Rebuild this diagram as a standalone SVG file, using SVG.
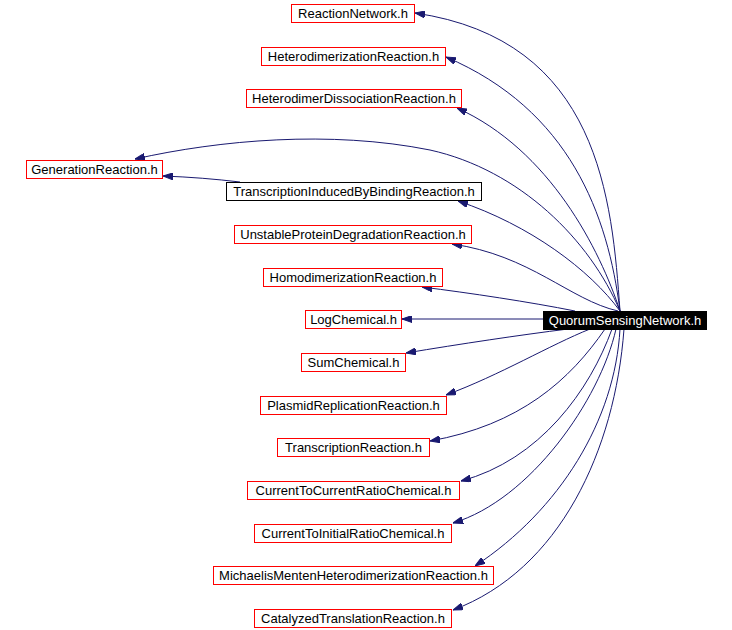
<svg xmlns="http://www.w3.org/2000/svg" width="732" height="630" viewBox="0 0 732 630">
<style>
.n rect{fill:#fff;stroke:#ff0000;stroke-width:1}
.n.b rect{stroke:#000}
.n text{font-family:"Liberation Sans",Arial,sans-serif;font-size:13px;fill:#000;text-anchor:middle}
.n.root rect{fill:#000;stroke:#000}
.n.root text{fill:#fff}
#edges path{fill:none;stroke:#191970;stroke-width:1;marker-end:url(#ah)}
</style>
<defs>
<marker id="ah" viewBox="0 0 10 7" refX="10" refY="3.5" markerWidth="10" markerHeight="7" markerUnits="userSpaceOnUse" orient="auto">
<path d="M0,0 L10,3.5 L0,7 z" fill="#191970" stroke="#191970" stroke-width="1"/>
</marker>
</defs>
<rect width="732" height="630" fill="#fff"/>
<g id="edges">
<path d="M620,311 C612,200 600,40 415,13"/>
<path d="M620,311 C608,215 570,110 446,57"/>
<path d="M620,311 C600,250 550,150 457,108"/>
<path d="M620,311 C590,240 520,170 430,150 C330,130 220,140 135,159"/>
<path d="M240,182 C215,179 190,177 163,176"/>
<path d="M620,311 C590,270 530,225 458,201"/>
<path d="M618,311 C570,300 530,255 452,244"/>
<path d="M575,311 C530,302 470,293 422,287"/>
<path d="M543,319 L402,319"/>
<path d="M568,329 C520,335 460,344 406,353"/>
<path d="M590,329 C550,345 500,375 446,395"/>
<path d="M605,329 C570,380 520,425 430,441"/>
<path d="M612,329 C590,390 540,460 461,481"/>
<path d="M616,329 C600,400 530,500 453,523"/>
<path d="M620,329 C615,420 560,510 475,566"/>
<path d="M624,329 C615,450 560,570 453,610"/>
</g>
<g id="n_reactionnetwork" class="n"><rect x="291.5" y="4.5" width="123" height="18"/><text x="353" y="18">ReactionNetwork.h</text></g>
<g id="n_heterodimerization" class="n"><rect x="261.5" y="47.5" width="184" height="18"/><text x="353.5" y="61">HeterodimerizationReaction.h</text></g>
<g id="n_heterodimerdissociation" class="n"><rect x="246.5" y="89.5" width="215" height="18"/><text x="354" y="103">HeterodimerDissociationReaction.h</text></g>
<g id="n_generation" class="n"><rect x="26.5" y="160.5" width="136" height="18"/><text x="94.5" y="174">GenerationReaction.h</text></g>
<g id="n_tibb" class="n b"><rect x="226.5" y="182.5" width="255" height="18"/><text x="354" y="196">TranscriptionInducedByBindingReaction.h</text></g>
<g id="n_unstable" class="n"><rect x="234.5" y="225.5" width="237" height="18"/><text x="353" y="239">UnstableProteinDegradationReaction.h</text></g>
<g id="n_homodimerization" class="n"><rect x="263.5" y="268.5" width="179" height="18"/><text x="353" y="282">HomodimerizationReaction.h</text></g>
<g id="n_logchemical" class="n"><rect x="305.5" y="310.5" width="96" height="18"/><text x="353.5" y="324">LogChemical.h</text></g>
<g id="n_sumchemical" class="n"><rect x="301.5" y="353.5" width="104" height="18"/><text x="353.5" y="367">SumChemical.h</text></g>
<g id="n_plasmid" class="n"><rect x="260.5" y="396.5" width="186" height="18"/><text x="353.5" y="410">PlasmidReplicationReaction.h</text></g>
<g id="n_transcription" class="n"><rect x="277.5" y="438.5" width="152" height="18"/><text x="353.5" y="452">TranscriptionReaction.h</text></g>
<g id="n_c2c" class="n"><rect x="247.5" y="481.5" width="212" height="18"/><text x="353.5" y="495">CurrentToCurrentRatioChemical.h</text></g>
<g id="n_c2i" class="n"><rect x="254.5" y="524.5" width="197" height="18"/><text x="353" y="538">CurrentToInitialRatioChemical.h</text></g>
<g id="n_michaelis" class="n"><rect x="213.5" y="566.5" width="280" height="18"/><text x="353.5" y="580">MichaelisMentenHeterodimerizationReaction.h</text></g>
<g id="n_catalyzed" class="n"><rect x="254.5" y="609.5" width="197" height="18"/><text x="353" y="623">CatalyzedTranslationReaction.h</text></g>
<g id="n_quorum" class="n root"><rect x="543.5" y="311.5" width="163" height="18"/><text x="625" y="325">QuorumSensingNetwork.h</text></g>
</svg>
